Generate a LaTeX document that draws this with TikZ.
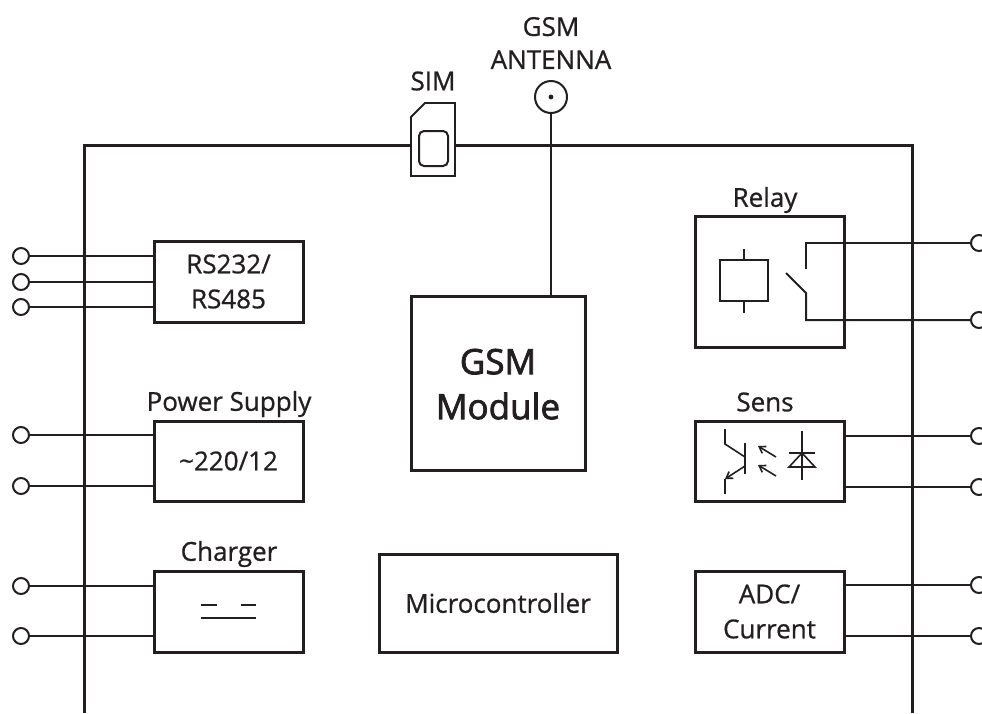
\documentclass[tikz,border=0pt]{standalone}
\usepackage{fontspec}
\usetikzlibrary{arrows.meta}
\setmainfont{Open Sans}[FakeBold=0.8]
\newfontfamily\gsmfont{Open Sans}[FakeBold=2.2]
\definecolor{ink}{HTML}{231F20}
\tikzset{
  blk/.style={draw=ink,line width=3pt,rectangle,inner sep=0pt,outer sep=0pt,anchor=north west,text=ink,align=center,font=\fontsize{26}{35}\selectfont},
  lbl/.style={text=ink,inner sep=0pt,align=center,font=\fontsize{26}{33}\selectfont},
  term/.style={draw=ink,line width=2pt,circle,fill=white,minimum size=16pt,inner sep=0pt,outer sep=0pt},
  wire/.style={draw=ink,line width=2pt},
  thin sym/.style={draw=ink,line width=1.6pt},
  frame/.style={draw=ink,line width=3pt}
}
\begin{document}
\begin{tikzpicture}[x=1pt,y=-1pt]
\useasboundingbox (0,0) rectangle (982,713);
\clip (0,0) rectangle (982,713);
% frame
\coordinate (fb) at (84,713);
\coordinate (fbr) at (912,713);
\draw[frame,line cap=butt] (fb) -- (84,145) -- (912,145) -- (fbr);
% boxes
\node[blk,minimum width=149pt,minimum height=81pt] (rs) at (154,241) {RS232/\\RS485};
\node[blk,minimum width=149pt,minimum height=80pt] (ps) at (154,421) {\textasciitilde 220/12};
\node[blk,minimum width=149pt,minimum height=81pt] (ch) at (154,571) {};
\node[blk,minimum width=174pt,minimum height=174pt,text depth=0pt,font=\fontsize{35}{45}\selectfont\gsmfont] (gsm) at (411,296) {\raisebox{-2pt}{GSM}\\\raisebox{-2pt}{Module}};
\node[blk,minimum width=238pt,minimum height=98pt] (mc) at (379,554) {Microcontroller};
\node[blk,minimum width=149pt,minimum height=131pt] (re) at (695,216) {};
\node[blk,minimum width=149pt,minimum height=80pt] (se) at (695,421) {};
\node[blk,minimum width=149pt,minimum height=81pt] (ad) at (695,571) {ADC/\\Current};
% labels
\node[lbl] (lgsm) at (551,43) {GSM\\ANTENNA};
\node[lbl] (lsim) at (433,81) {SIM};
\node[lbl] (lre) at (765,200) {Relay};
\node[lbl] (lps) at (229,404) {Power Supply};
\node[lbl] (lse) at (765,402) {Sens};
\node[lbl] (lch) at (229,554) {Charger};
% left terminals
\foreach \n/\y/\b in {a/256/rs,b/282/rs,c/307/rs,d/435/ps,e/486/ps,f/586/ch,g/636/ch}{
  \node[term] (t\n) at (21,\y) {};
  \draw[wire] (t\n.east) -- (\b.west |- t\n);
}
% right terminals
\foreach \n/\y/\b in {j/436/se,k/487/se,l/585/ad,m/636/ad}{
  \node[term] (t\n) at (979,\y) {};
  \draw[wire] (t\n.west) -- (\b.east |- t\n);
}
\node[term] (th) at (979,243) {};
\node[term] (ti) at (979,320) {};
% relay
\node[draw=ink,line width=1.8pt,minimum width=48pt,minimum height=41pt,inner sep=0pt,outer sep=0pt,anchor=north west] (coil) at (720,260) {};
\coordinate (ct) at (744,249);
\coordinate (cb) at (744,313);
\draw[thin sym] (coil.north) -- (ct) (coil.south) -- (cb);
\coordinate (sa) at (806,269);
\coordinate (sb) at (806,293);
\coordinate (sl) at (786,273);
\draw[wire,line join=miter] (sa) -- (sa |- th) -- (th.west);
\draw[wire,line join=miter] (sl) -- (sb) -- (sb |- ti) -- (ti.west);
% sens symbol
\draw[thin sym] (745,443) -- (745,474);
\draw[thin sym] (725,429) -- (725,444) -- (745,457);
\draw[thin sym,-{Straight Barb[length=6pt,width=8pt]}] (745,466) -- (725,479);
\draw[thin sym] (725,479) -- (725,494);
\draw[thin sym,-{Straight Barb[length=6pt,width=8pt]}] (776,457) -- (758,446);
\draw[thin sym,-{Straight Barb[length=6pt,width=8pt]}] (776,476) -- (758,465);
\draw[thin sym] (802,431) -- (802,480) (789,453) -- (815,453);
\draw[thin sym] (789,467) -- (815,467) -- (802,453) -- cycle;
% charger symbol
\draw[wire] (201,605) -- (217,605) (241,605) -- (256,605);
\draw[wire] (201,618) -- (256,618);
% antenna
\node[term,minimum size=32pt] (ant) at (551,97) {};
\fill[ink] (ant.center) circle (2.4pt);
\draw[wire] (ant.south) -- (gsm.north -| ant);
% SIM
\draw[draw=ink,line width=1.8pt,fill=white] (411,117) -- (425,103) -- (455,103) -- (455,176) -- (411,176) -- cycle;
\node[draw=ink,line width=2pt,rounded corners=5pt,minimum width=29pt,minimum height=35pt,inner sep=0pt,outer sep=0pt,anchor=north west] (chip) at (419,131) {};
\end{tikzpicture}
\end{document}
